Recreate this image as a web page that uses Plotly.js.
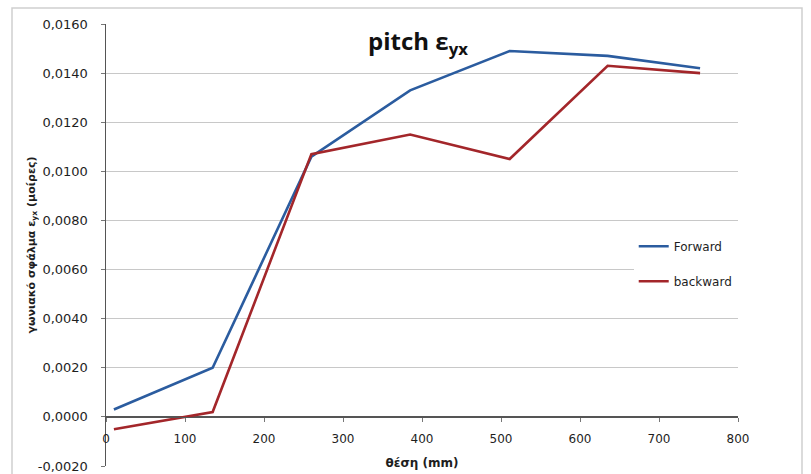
<!DOCTYPE html>
<html>
<head>
<meta charset="utf-8">
<script src="https://cdn.plot.ly/plotly-3.0.1.min.js"></script>
<style>html,body{margin:0;padding:0;background:#fff;}#chart{width:811px;height:474px;}</style>
</head>
<body>
<div id="chart"></div>
<script>
const positions = [10, 135, 260, 385, 511, 635, 752];
const forward = [0.0003, 0.0020, 0.0106, 0.0133, 0.0149, 0.0147, 0.0142];
const backward = [-0.0005, 0.0002, 0.0107, 0.0115, 0.0105, 0.0143, 0.0140];
const seriesNames = ['Forward', 'backward'];
const xTicks = [0, 100, 200, 300, 400, 500, 600, 700, 800];
const yTicks = [-0.002, 0, 0.002, 0.004, 0.006, 0.008, 0.010, 0.012, 0.014, 0.016];
const yTickText = ['-0,0020', '0,0000', '0,0020', '0,0040', '0,0060', '0,0080', '0,0100', '0,0120', '0,0140', '0,0160'];

const traces = [
  {x: positions, y: forward, name: seriesNames[0], mode: 'lines', legendgroup: 'a',
   line: {color: '#2B5C9F', width: 2.6}},
  {x: positions, y: backward, name: seriesNames[1], mode: 'lines', legendgroup: 'b',
   line: {color: '#A3262A', width: 2.6}}
];

const layout = {
  width: 811, height: 474,
  margin: {l: 106, r: 73, t: 24, b: 8},
  paper_bgcolor: '#ffffff', plot_bgcolor: '#ffffff',
  separators: ',.',
  font: {family: 'DejaVu Sans', color: '#1e1e1e', size: 12},
  title: {text: '<b>pitch ε<sub>yx</sub></b>', x: (418-106)/632, y: (466-42)/442,
          xanchor: 'center', yanchor: 'middle', xref: 'paper', yref: 'paper',
          font: {family: 'Open Sans', size: 24, color: '#111'}},
  xaxis: {
    range: [0, 800], tickvals: xTicks, ticktext: xTicks.map(String),
    anchor: 'free', position: 0.002/0.018,
    showgrid: false, zeroline: false,
    showline: true, linecolor: '#555', linewidth: 1.5,
    ticks: 'outside', ticklen: 4, tickcolor: '#777',
    ticklabelstandoff: 6,
    tickfont: {family: 'DejaVu Sans', size: 12, color: '#1e1e1e'},
    title: {text: '<b>θέση (mm)</b>', standoff: 14,
            font: {family: 'DejaVu Sans', size: 12, color: '#1e1e1e'}},
    fixedrange: true
  },
  yaxis: {
    range: [-0.002, 0.016], tickvals: yTicks, ticktext: yTickText,
    showgrid: true, gridcolor: '#c8c8c8', gridwidth: 1.2,
    zeroline: true, zerolinecolor: '#555', zerolinewidth: 1.5,
    showline: true, linecolor: '#555', linewidth: 1.5,
    ticks: 'outside', ticklen: 4, tickcolor: '#777',
    ticklabelstandoff: 10,
    tickfont: {family: 'DejaVu Sans', size: 13, color: '#1e1e1e'},
    title: {text: '<b>γωνιακό σφάλμα ε<sub>yx</sub> (μοίρες)</b>', standoff: 0,
            font: {family: 'DejaVu Sans', size: 11, color: '#1e1e1e'}},
    fixedrange: true
  },
  showlegend: true,
  legend: {x: 0.835, y: 0.53, xanchor: 'left', yanchor: 'top',
           bgcolor: 'rgba(255,255,255,1)', borderwidth: 0,
           tracegroupgap: 16, itemwidth: 30,
           font: {family: 'DejaVu Sans', size: 12, color: '#1e1e1e'}},
  shapes: [{type: 'rect', xref: 'paper', yref: 'paper',
            x0: (12-106)/632, x1: (802-106)/632, y0: -0.03, y1: 1 + 16/442,
            line: {color: '#cfcfcf', width: 1.5}, fillcolor: 'rgba(0,0,0,0)', layer: 'below'}]
};

Plotly.newPlot('chart', traces, layout, {staticPlot: true, displayModeBar: false});
</script>
</body>
</html>
